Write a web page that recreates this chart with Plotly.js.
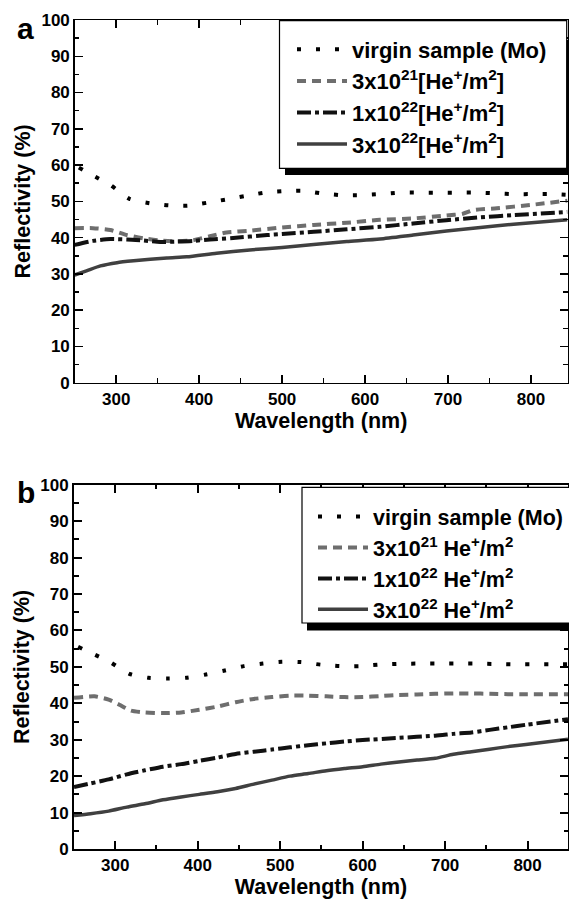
<!DOCTYPE html>
<html>
<head>
<meta charset="utf-8">
<script src="https://cdn.plot.ly/plotly-3.0.1.min.js"></script>
<style>html,body{margin:0;padding:0;background:#fff;}#chart{width:569px;height:905px;}</style>
</head>
<body>
<div id="chart"></div>
<script>
// ---------- Panel a data ----------
const aVirginX = [255, 269, 293, 316, 340, 363, 386, 409, 432, 456, 479, 502, 525, 548, 571, 595, 618, 641, 665, 688, 711, 735, 758, 781, 804, 827, 844];
const aVirginY = [59.3, 57.5, 54.5, 50.7, 49.5, 48.9, 48.8, 49.6, 50.5, 51.5, 52.4, 52.8, 52.9, 52.2, 51.7, 51.7, 52.0, 52.4, 52.4, 52.4, 52.4, 52.4, 52.2, 52.0, 52.0, 52.0, 51.8];

const a21X = [250, 272, 293, 313, 333, 353, 373, 393, 413, 433, 461, 500, 538, 578, 618, 658, 698, 718, 731, 759, 799, 844];
const a21Y = [42.6, 42.6, 42.1, 40.7, 39.8, 39.2, 39.0, 39.3, 40.4, 41.4, 41.9, 42.8, 43.5, 44.1, 44.9, 45.3, 46.1, 46.6, 47.6, 48.1, 49.0, 50.2];

const a22X = [250, 272, 293, 313, 333, 353, 373, 393, 413, 441, 482, 500, 538, 578, 618, 658, 698, 739, 779, 844];
const a22Y = [38.0, 39.1, 39.6, 39.5, 39.2, 38.8, 38.9, 39.1, 39.5, 39.9, 40.7, 41.0, 41.6, 42.3, 43.0, 43.9, 44.8, 45.6, 46.2, 47.1];

const a322X = [250, 265, 281, 301, 321, 361, 385, 421, 461, 500, 538, 578, 618, 658, 698, 739, 779, 844];
const a322Y = [29.7, 30.9, 32.2, 33.1, 33.6, 34.4, 34.7, 35.7, 36.6, 37.3, 38.1, 38.9, 39.6, 40.7, 41.8, 42.8, 43.7, 44.9];

// ---------- Panel b data ----------
const bVirginX = [255, 270, 293, 317, 340, 363, 386, 410, 433, 456, 479, 502, 525, 549, 572, 596, 619, 642, 665, 689, 712, 735, 758, 781, 805, 828, 849];
const bVirginY = [55.5, 53.9, 51.4, 48.1, 47.0, 46.8, 47.0, 47.9, 49.0, 50.2, 50.9, 51.4, 51.3, 50.6, 50.2, 50.2, 50.6, 50.8, 50.9, 50.9, 50.9, 50.9, 50.8, 50.7, 50.7, 50.7, 50.7];

const b21X = [250, 275, 292, 305, 319, 336, 358, 380, 402, 424, 446, 468, 490, 512, 534, 556, 578, 600, 622, 644, 666, 688, 710, 732, 754, 776, 798, 849];
const b21Y = [41.5, 41.9, 41.0, 39.6, 38.0, 37.5, 37.3, 37.5, 38.2, 39.1, 40.3, 41.2, 41.7, 42.1, 42.1, 41.9, 41.7, 41.7, 42.0, 42.3, 42.4, 42.6, 42.7, 42.7, 42.6, 42.5, 42.5, 42.5];

const b22X = [250, 270, 292, 314, 336, 358, 380, 402, 424, 446, 468, 490, 512, 534, 556, 578, 600, 644, 688, 710, 732, 754, 776, 798, 849];
const b22Y = [17.0, 18.0, 19.1, 20.5, 21.6, 22.6, 23.3, 24.2, 25.1, 26.1, 26.7, 27.3, 27.9, 28.5, 29.0, 29.5, 29.9, 30.5, 31.1, 31.6, 32.0, 32.7, 33.4, 34.1, 35.6];

const b322X = [250, 270, 292, 314, 336, 358, 380, 402, 424, 446, 468, 490, 512, 534, 556, 578, 600, 622, 644, 666, 688, 710, 732, 754, 776, 798, 849];
const b322Y = [9.2, 9.7, 10.4, 11.5, 12.4, 13.5, 14.3, 15.0, 15.7, 16.6, 17.8, 18.9, 20.0, 20.7, 21.5, 22.1, 22.6, 23.3, 23.9, 24.4, 24.9, 26.0, 26.7, 27.4, 28.1, 28.7, 30.1];

// ---------- Labels ----------
const namesA = ['virgin sample (Mo)', '3x10<sup>21</sup>[He<sup>+</sup>/m<sup>2</sup>]', '1x10<sup>22</sup>[He<sup>+</sup>/m<sup>2</sup>]', '3x10<sup>22</sup>[He<sup>+</sup>/m<sup>2</sup>]'];
const namesB = ['virgin sample (Mo)', '3x10<sup>21</sup> He<sup>+</sup>/m<sup>2</sup>', '1x10<sup>22</sup> He<sup>+</sup>/m<sup>2</sup>', '3x10<sup>22</sup> He<sup>+</sup>/m<sup>2</sup>'];
const xTitle = 'Wavelength (nm)';
const yTitle = 'Reflectivity (%)';

const styles = [
  {color: '#000000', width: 4, dash: '4px,15px'},
  {color: '#6e6e6e', width: 4, dash: '9px,6px'},
  {color: '#111111', width: 4, dash: '14px,4px,4px,4px'},
  {color: '#404040', width: 3.5, dash: 'solid'}
];

const FONT = 'Liberation Sans, Arial, sans-serif';

function tr(x, y, i, name, xa, ya, leg) {
  return {x: x, y: y, name: name, type: 'scatter', mode: 'lines', xaxis: xa, yaxis: ya, legend: leg,
    line: {color: styles[i].color, width: styles[i].width, dash: styles[i].dash, shape: 'spline', smoothing: 0.6},
    hoverinfo: 'skip'};
}

const data = [
  tr(aVirginX, aVirginY, 0, namesA[0], 'x', 'y', 'legend'),
  tr(a21X, a21Y, 1, namesA[1], 'x', 'y', 'legend'),
  tr(a22X, a22Y, 2, namesA[2], 'x', 'y', 'legend'),
  tr(a322X, a322Y, 3, namesA[3], 'x', 'y', 'legend'),
  tr(bVirginX, bVirginY, 0, namesB[0], 'x2', 'y2', 'legend2'),
  tr(b21X, b21Y, 1, namesB[1], 'x2', 'y2', 'legend2'),
  tr(b22X, b22Y, 2, namesB[2], 'x2', 'y2', 'legend2'),
  tr(b322X, b322Y, 3, namesB[3], 'x2', 'y2', 'legend2')
];

function xAxis(domain, range, anchor, lw) {
  return {domain: domain, range: range, anchor: anchor, showline: true, linecolor: '#000', linewidth: lw, mirror: 'allticks',
    ticks: 'inside', ticklen: 8, tickwidth: lw, tickcolor: '#000', dtick: 100, tick0: 0, showgrid: false, zeroline: false,
    tickfont: {family: FONT, size: 17, weight: 'bold', color: '#000'},
    minor: {ticks: 'inside', ticklen: 4.5, dtick: 50, tick0: 0, tickcolor: '#000', tickwidth: lw, showgrid: false},
    title: {text: xTitle, font: {family: FONT, size: 21.5, weight: 'bold', color: '#000'}, standoff: 3},
    automargin: false};
}
function yAxis(domain, anchor, lw) {
  return {domain: domain, range: [0, 100], anchor: anchor, showline: true, linecolor: '#000', linewidth: lw, mirror: 'allticks',
    ticks: 'inside', ticklen: 8, tickwidth: lw, tickcolor: '#000', dtick: 10, tick0: 0, showgrid: false, zeroline: false,
    tickfont: {family: FONT, size: 17, weight: 'bold', color: '#000'},
    minor: {ticks: 'inside', ticklen: 4.5, dtick: 5, tick0: 0, tickcolor: '#000', tickwidth: lw, showgrid: false},
    title: {text: yTitle, font: {family: FONT, size: 21.5, weight: 'bold', color: '#000'}, standoff: 5},
    automargin: false};
}

const W = 569, H = 905, ML = 74, MR = 1, MT = 20, MB = 56;
const PW = W - ML - MR, PH = H - MT - MB;
const px = v => (v - ML) / PW;       // pixel x -> paper
const py = v => (H - MB - v) / PH;   // pixel y -> paper

const legendFontA = {family: FONT, size: 22, weight: 'bold', color: '#000'};
const legendFontB = {family: FONT, size: 21.5, weight: 'bold', color: '#000'};

const layout = {
  width: W, height: H,
  margin: {l: ML, r: MR, t: MT, b: MB, pad: 0},
  paper_bgcolor: '#fff', plot_bgcolor: '#fff',
  showlegend: true,
  xaxis: xAxis([px(74.7), px(567.5)], [250, 844], 'y', 1.5),
  yaxis: yAxis([py(382.7), py(20)], 'x', 1.5),
  xaxis2: xAxis([px(73.7), px(568.3)], [250, 849], 'y2', 2),
  yaxis2: yAxis([py(849), py(484.7)], 'x2', 2),
  legend: {x: px(292), y: py(28.5), xanchor: 'left', yanchor: 'top', bgcolor: 'rgba(0,0,0,0)', borderwidth: 0,
    font: legendFontA, itemwidth: 50, tracegroupgap: 0, traceorder: 'normal'},
  legend2: {x: px(313), y: py(496), xanchor: 'left', yanchor: 'top', bgcolor: 'rgba(0,0,0,0)', borderwidth: 0,
    font: legendFontB, itemwidth: 50, tracegroupgap: 0, traceorder: 'normal'},
  shapes: [
    // panel a legend shadow + box
    {type: 'rect', xref: 'paper', yref: 'paper', x0: px(285), x1: px(569), y0: py(175), y1: py(40), fillcolor: '#000', line: {width: 0}, layer: 'above'},
    {type: 'rect', xref: 'paper', yref: 'paper', x0: px(279.5), x1: px(566.7), y0: py(168.3), y1: py(20.7), fillcolor: '#fff', line: {color: '#000', width: 1.2}, layer: 'above'},
    // panel b legend shadow + box
    {type: 'rect', xref: 'paper', yref: 'paper', x0: px(307), x1: px(569), y0: py(630.4), y1: py(500), fillcolor: '#000', line: {width: 0}, layer: 'above'},
    {type: 'rect', xref: 'paper', yref: 'paper', x0: px(302), x1: px(570), y0: py(623), y1: py(487.3), fillcolor: '#fff', line: {color: '#000', width: 1.2}, layer: 'above'}
  ],
  annotations: [
    {text: 'a', xref: 'paper', yref: 'paper', x: px(25.5), y: py(29), xanchor: 'center', yanchor: 'middle', showarrow: false,
      font: {family: FONT, size: 30, weight: 'bold', color: '#000'}},
    {text: 'b', xref: 'paper', yref: 'paper', x: px(25.5), y: py(492), xanchor: 'center', yanchor: 'middle', showarrow: false,
      font: {family: FONT, size: 30, weight: 'bold', color: '#000'}}
  ]
};

Plotly.newPlot('chart', data, layout, {staticPlot: true, displayModeBar: false});
</script>
</body>
</html>
